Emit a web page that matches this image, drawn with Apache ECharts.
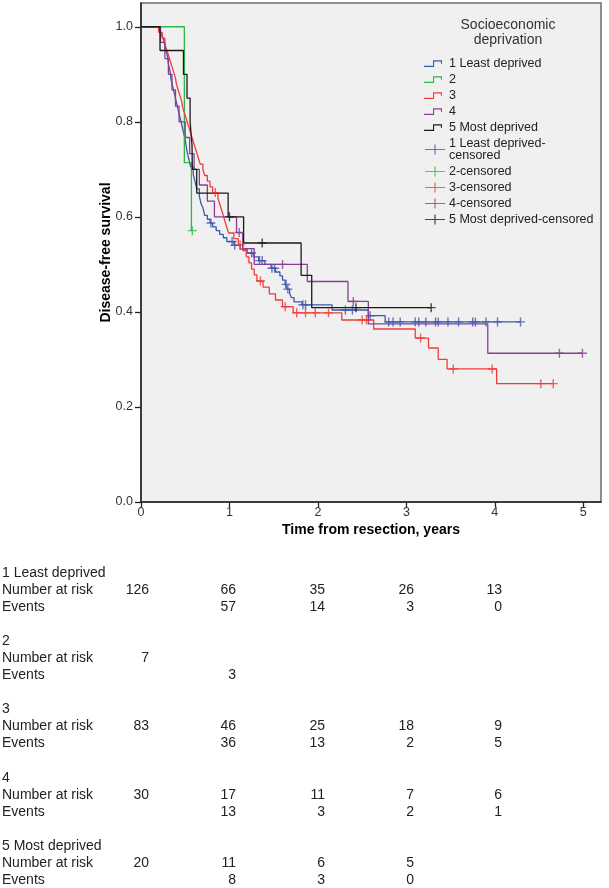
<!DOCTYPE html>
<html><head><meta charset="utf-8">
<script src="https://cdn.jsdelivr.net/npm/echarts@6/dist/echarts.min.js"></script>
<style>html,body{margin:0;padding:0;background:#fff}#c{width:609px;height:888px}</style>
</head><body><div id="c"></div>
<script>
// ---------- data ----------
const groupNames = ['1 Least deprived', '2', '3', '4', '5 Most deprived'];
const xTicks = [0, 1, 2, 3, 4, 5];
const yTicks = [0, 0.2, 0.4, 0.6, 0.8, 1.0];

// Kaplan-Meier steps: [time, survival after event]
const steps1 = [[0.21,0.992],[0.23,0.984],[0.25,0.976],[0.27,0.960],[0.28,0.952],[0.30,0.937],[0.31,0.921],[0.33,0.905],[0.34,0.889],[0.36,0.873],[0.38,0.857],[0.40,0.841],[0.42,0.825],[0.44,0.810],[0.46,0.794],[0.48,0.778],[0.50,0.762],[0.52,0.738],[0.54,0.722],[0.56,0.706],[0.59,0.690],[0.61,0.675],[0.63,0.659],[0.66,0.643],[0.68,0.627],[0.70,0.619],[0.72,0.603],[0.75,0.595],[0.78,0.587],[0.81,0.579],[0.85,0.571],[0.89,0.563],[0.93,0.556],[0.97,0.548],[1.05,0.540],[1.12,0.532],[1.20,0.524],[1.27,0.516],[1.33,0.508],[1.40,0.500],[1.47,0.492],[1.52,0.484],[1.57,0.476],[1.60,0.467],[1.63,0.458],[1.65,0.448],[1.68,0.439],[1.70,0.430],[1.73,0.421],[1.82,0.415],[2.16,0.404],[2.57,0.392],[2.76,0.379]];
const steps2 = [[0.49,0.714],[0.57,0.571]];
const steps3 = [[0.20,0.988],[0.24,0.976],[0.27,0.964],[0.29,0.952],[0.31,0.940],[0.33,0.928],[0.35,0.916],[0.37,0.904],[0.39,0.892],[0.40,0.880],[0.42,0.867],[0.44,0.855],[0.46,0.843],[0.47,0.831],[0.49,0.819],[0.51,0.807],[0.53,0.795],[0.55,0.783],[0.57,0.771],[0.59,0.759],[0.61,0.747],[0.63,0.735],[0.65,0.723],[0.67,0.711],[0.70,0.699],[0.72,0.687],[0.75,0.675],[0.78,0.663],[0.81,0.651],[0.87,0.639],[0.89,0.627],[0.91,0.615],[0.93,0.603],[0.95,0.590],[0.97,0.578],[0.99,0.566],[1.05,0.554],[1.10,0.541],[1.15,0.529],[1.19,0.516],[1.22,0.503],[1.25,0.490],[1.28,0.478],[1.31,0.465],[1.38,0.452],[1.45,0.438],[1.52,0.425],[1.60,0.411],[1.72,0.398],[2.27,0.383],[2.63,0.364],[3.10,0.345],[3.25,0.324],[3.36,0.300],[3.46,0.280],[4.02,0.249]];
const steps4 = [[0.22,0.967],[0.27,0.933],[0.31,0.900],[0.35,0.867],[0.39,0.833],[0.43,0.800],[0.50,0.767],[0.55,0.733],[0.60,0.700],[0.66,0.667],[0.75,0.633],[0.83,0.600],[1.08,0.567],[1.15,0.533],[1.28,0.500],[1.88,0.464],[2.34,0.422],[2.57,0.375],[3.92,0.313]];
const steps5 = [[0.215,0.95],[0.48,0.90],[0.52,0.85],[0.555,0.80],[0.577,0.75],[0.58,0.70],[0.63,0.65],[0.985,0.60],[1.16,0.545],[1.81,0.477],[1.93,0.409]];

// censored observations: [time, survival]
const cens1 = [[0.79,0.587],[1.03,0.548],[1.06,0.540],[1.25,0.524],[1.34,0.508],[1.37,0.508],[1.48,0.492],[1.51,0.492],[1.64,0.458],[1.66,0.448],[1.83,0.415],[1.86,0.415],[2.31,0.404],[2.39,0.404],[2.59,0.392],[2.80,0.379],[2.85,0.379],[2.93,0.379],[3.10,0.379],[3.14,0.379],[3.22,0.379],[3.33,0.379],[3.36,0.379],[3.47,0.379],[3.59,0.379],[3.75,0.379],[3.78,0.379],[3.90,0.379],[4.03,0.379],[4.29,0.379]];
const cens2 = [[0.58,0.571]];
const cens3 = [[0.84,0.651],[1.12,0.541],[1.35,0.465],[1.63,0.411],[1.76,0.398],[1.86,0.398],[1.97,0.398],[2.12,0.398],[2.50,0.383],[2.55,0.383],[3.16,0.345],[3.53,0.280],[3.97,0.280],[4.52,0.249],[4.66,0.249]];
const cens4 = [[1.11,0.567],[1.60,0.500],[2.40,0.422],[4.73,0.313],[4.99,0.313]];
const cens5 = [[1.00,0.60],[1.37,0.545],[2.43,0.409],[3.28,0.409]];

// numbers at risk / events table
const atRisk = [[126,66,35,26,13],[7],[83,46,25,18,9],[30,17,11,7,6],[20,11,6,5]];
const events = [[null,57,14,3,0],[null,3],[null,36,13,2,5],[null,13,3,2,1],[null,8,3,0]];

// ---------- styling ----------
const colors = ['#3e58ac', '#2eb848', '#f03c3c', '#8b3d94', '#1a1a1a'];
const FONT = '"Liberation Sans", Arial, sans-serif';
const stepsAll = [steps1, steps2, steps3, steps4, steps5];
const censAll = [cens1, cens2, cens3, cens4, cens5];

const plusSymbol = 'path://M0,3.8 H9 V5.2 H0 Z M3.8,0 H5.2 V9 H3.8 Z';
const stepIcon = 'path://M0,0 L0.01,0 L0,0.01 Z M24,10 L23.99,10 L24,9.99 Z M1,7.3 L10,7.3 L10,1.8 L19,1.8 L19,5.2 L17.9,5.2 L17.9,2.9 L11.1,2.9 L11.1,8.4 L1,8.4 Z';
const plusIcon = 'path://M0,0 L0.01,0 L0,0.01 Z M24,10 L23.99,10 L24,9.99 Z M2,4.4 H22 V5.6 H2 Z M11.4,0 H12.6 V10 H11.4 Z';

const series = [];
groupNames.forEach((g, i) => {
  const st = stepsAll[i];
  const cs = censAll[i];
  const last = st[st.length - 1];
  const lastC = cs[cs.length - 1];
  const endT = Math.max(last[0], lastC[0]);
  series.push({
    name: g, type: 'line', step: 'end', showSymbol: false, silent: true,
    data: [[0, 1]].concat(st, [[endT, last[1]]]),
    lineStyle: { color: colors[i], width: 1.3 },
    itemStyle: { color: colors[i] },
    z: 2
  });
});
groupNames.forEach((g, i) => {
  series.push({
    name: g + '-censored', type: 'scatter', silent: true,
    data: censAll[i], symbol: plusSymbol, symbolSize: [9, 9],
    itemStyle: { color: colors[i] }, z: 3
  });
});

const legendData = groupNames.map(g => ({ name: g, icon: stepIcon }))
  .concat(groupNames.map(g => ({ name: g + '-censored', icon: plusIcon })));

// table graphics
const colRight = [149, 236, 325, 414, 502];
const tableTop = 573, rowPitch = 17.06;
const TF = '14px ' + FONT;
const tableEls = [];
groupNames.forEach((g, gi) => {
  const base = tableTop + gi * 4 * rowPitch;
  const labels = [g, 'Number at risk', 'Events'];
  labels.forEach((t, k) => {
    tableEls.push({ type: 'text', x: 2, y: base + k * rowPitch, style: { text: t, font: TF, fill: '#222', textAlign: 'left', textVerticalAlign: 'middle' } });
  });
  atRisk[gi].forEach((v, ci) => {
    if (v === null) return;
    tableEls.push({ type: 'text', x: colRight[ci], y: base + rowPitch, style: { text: String(v), font: TF, fill: '#222', textAlign: 'right', textVerticalAlign: 'middle' } });
  });
  events[gi].forEach((v, ci) => {
    if (v === null) return;
    tableEls.push({ type: 'text', x: colRight[ci], y: base + 2 * rowPitch, style: { text: String(v), font: TF, fill: '#222', textAlign: 'right', textVerticalAlign: 'middle' } });
  });
});

const chart = echarts.init(document.getElementById('c'), null, { renderer: 'canvas' });
chart.setOption({
  animation: false,
  backgroundColor: '#fff',
  textStyle: { fontFamily: FONT },
  grid: { left: 141, right: 8, top: 3, bottom: 386, show: true, backgroundColor: '#f0f0f0', borderColor: '#6b6b6b', borderWidth: 1.5 },
  xAxis: {
    type: 'value', min: 0, max: 5.2, interval: 1,
    name: 'Time from resection, years', nameLocation: 'middle', nameGap: 21, nameMoveOverlap: false,
    nameTextStyle: { fontWeight: 'bold', fontSize: 14, color: '#000', fontFamily: FONT },
    axisLine: { show: true, onZero: false, lineStyle: { color: '#222', width: 1.5 } },
    axisTick: { show: true, length: 5, lineStyle: { color: '#222', width: 1.3 }, customValues: xTicks },
    axisLabel: { color: '#333', fontSize: 12.5, margin: 4, customValues: xTicks, formatter: v => String(v) },
    splitLine: { show: false }
  },
  yAxis: {
    type: 'value', min: 0, max: 1.05, interval: 0.2,
    name: 'Disease-free survival', nameLocation: 'middle', nameGap: 28, nameMoveOverlap: false,
    nameTextStyle: { fontWeight: 'bold', fontSize: 14, color: '#000', fontFamily: FONT },
    axisLine: { show: true, onZero: false, lineStyle: { color: '#222', width: 1.5 } },
    axisTick: { show: true, length: 6, lineStyle: { color: '#222', width: 1.3 }, customValues: yTicks },
    axisLabel: { color: '#333', fontSize: 12.5, margin: 8, customValues: yTicks, formatter: v => v.toFixed(1) },
    splitLine: { show: false }
  },
  legend: {
    orient: 'vertical', left: 418, top: 52, itemWidth: 24, itemHeight: 10, itemGap: 3,
    selectedMode: false,
    data: legendData,
    formatter: n => n === '1 Least deprived-censored' ? '1 Least deprived-\ncensored' : n,
    textStyle: { fontSize: 12.5, color: '#222', lineHeight: 12, fontFamily: FONT, padding: [0, 0, 0, -3] }
  },
  graphic: [
    { type: 'text', x: 508, y: 33, style: { text: 'Socioeconomic\ndeprivation', font: '14px ' + FONT, fill: '#333', textAlign: 'center', textVerticalAlign: 'middle', lineHeight: 15 } }
  ].concat(tableEls),
  series: series
});
</script></body></html>
